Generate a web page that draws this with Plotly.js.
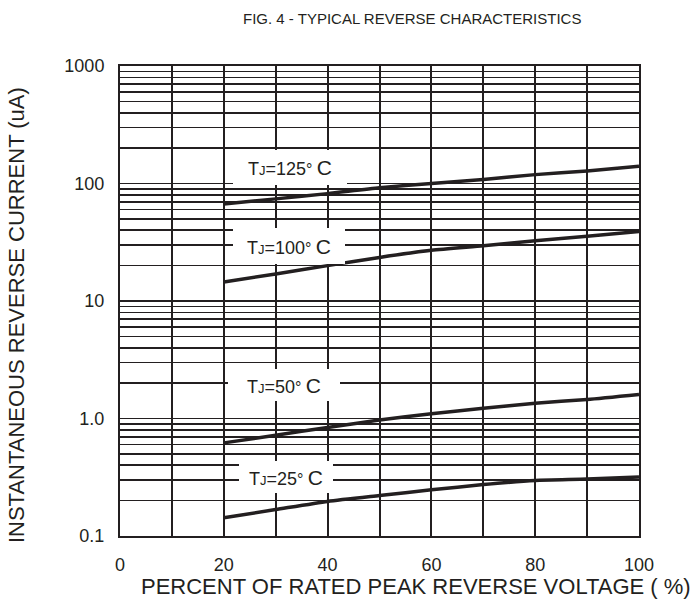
<!DOCTYPE html>
<html>
<head>
<meta charset="utf-8">
<script src="https://cdn.plot.ly/plotly-3.0.1.min.js"></script>
<style>html,body{margin:0;padding:0;background:#fff;}#chart{width:699px;height:602px;}</style>
</head>
<body>
<div id="chart"></div>
<script>
// Data
const voltagePct = [20, 30, 40, 50, 60, 70, 80, 90, 100];
const current125 = [67, 74, 82, 92, 100, 108, 119, 128, 140];
const current100 = [14.5, 17, 20, 23.5, 27, 29.5, 32.5, 35.5, 39];
const current50 = [0.62, 0.72, 0.84, 0.97, 1.1, 1.22, 1.35, 1.45, 1.6];
const current25 = [0.143, 0.168, 0.197, 0.221, 0.247, 0.274, 0.297, 0.305, 0.318];

const seriesLabels = ['125', '100', '50', '25'];
const xTickVals = [0, 10, 20, 30, 40, 50, 60, 70, 80, 90, 100];
const xTickText = ['0', '', '20', '', '40', '', '60', '', '80', '', '100'];
const yDecades = [0.1, 1, 10, 100];
const yDecadeText = ['0.1', '1.0', '10', '100', '1000'];

const ink = '#231f20';
const FONT = 'Liberation Sans, Arial, Helvetica, sans-serif';

// y tick positions: 1..9 per decade, label only on decades
const yTickVals = [];
const yTickText = [];
yDecades.forEach((d, i) => {
  for (let k = 1; k <= 9; k++) {
    yTickVals.push(d * k);
    yTickText.push(k === 1 ? yDecadeText[i] : '');
  }
});
yTickVals.push(1000);
yTickText.push(yDecadeText[4]);

const allSeries = [current125, current100, current50, current25];
const traces = allSeries.map((ys, i) => ({
  x: voltagePct,
  y: ys,
  type: 'scatter',
  mode: 'lines',
  name: 'TJ=' + seriesLabels[i] + '°C',
  line: {color: ink, width: 3.5, shape: 'spline', smoothing: 0.6},
  hoverinfo: 'skip'
}));

function tjLabel(t) {
  return 'T<span style="font-size:13px">J</span>=' + t +
         '<span style="font-size:16px">° </span><span style="font-size:21px">C</span>';
}

// label boxes (centre x in %, centre y in log10 units)
const labelPos = [
  {x: 32.8, y: 2.132},
  {x: 32.5, y: 1.472},
  {x: 31.6, y: 0.289},
  {x: 32.0, y: -0.494}
];
const labelBox = [
  {w: 114, h: 35},
  {w: 112, h: 36},
  {w: 112, h: 32},
  {w: 94, h: 32}
];

const annotations = seriesLabels.map((t, i) => ({
  x: labelPos[i].x, y: labelPos[i].y, xref: 'x', yref: 'y',
  text: tjLabel(t), showarrow: false,
  font: {family: FONT, size: 18, color: ink},
  bgcolor: '#ffffff', width: labelBox[i].w, height: labelBox[i].h,
  borderpad: 0, borderwidth: 0, align: 'center', valign: 'middle'
}));

annotations.push({
  text: 'FIG. 4 - TYPICAL REVERSE CHARACTERISTICS',
  xref: 'paper', yref: 'paper', x: 0.562, y: 1.0, yshift: 48,
  xanchor: 'center', yanchor: 'middle', showarrow: false,
  font: {family: FONT, size: 15, color: ink}
});
annotations.push({
  text: 'PERCENT OF RATED PEAK REVERSE VOLTAGE ( %)',
  xref: 'paper', yref: 'paper', x: 0.57, y: 0, yshift: -50,
  xanchor: 'center', yanchor: 'middle', showarrow: false,
  font: {family: FONT, size: 22, color: ink}
});
annotations.push({
  text: 'INSTANTANEOUS REVERSE CURRENT (uA)',
  xref: 'paper', yref: 'paper', x: 0, xshift: -104, y: 0.47,
  xanchor: 'center', yanchor: 'middle', textangle: -90, showarrow: false,
  font: {family: FONT, size: 22, color: ink}
});

const layout = {
  width: 699, height: 602,
  margin: {l: 120, r: 60, t: 66, b: 66},
  paper_bgcolor: '#ffffff', plot_bgcolor: '#ffffff',
  showlegend: false,
  font: {family: FONT, color: ink},
  xaxis: {
    range: [0, 100], tickvals: xTickVals, ticktext: xTickText,
    showgrid: true, gridcolor: ink, gridwidth: 2,
    showline: true, mirror: true, linecolor: ink, linewidth: 2,
    ticks: '', ticklabelstandoff: 11, zeroline: false,
    tickfont: {family: FONT, size: 18, color: ink}, fixedrange: true
  },
  yaxis: {
    type: 'log', range: [-1, 3], tickvals: yTickVals, ticktext: yTickText,
    showgrid: true, gridcolor: ink, gridwidth: 1.6,
    showline: true, mirror: true, linecolor: ink, linewidth: 2,
    ticks: '', ticklabelstandoff: 10, zeroline: false,
    tickfont: {family: FONT, size: 18, color: ink}, fixedrange: true
  },
  annotations: annotations
};

Plotly.newPlot('chart', traces, layout, {staticPlot: true, displayModeBar: false});
</script>
</body>
</html>
